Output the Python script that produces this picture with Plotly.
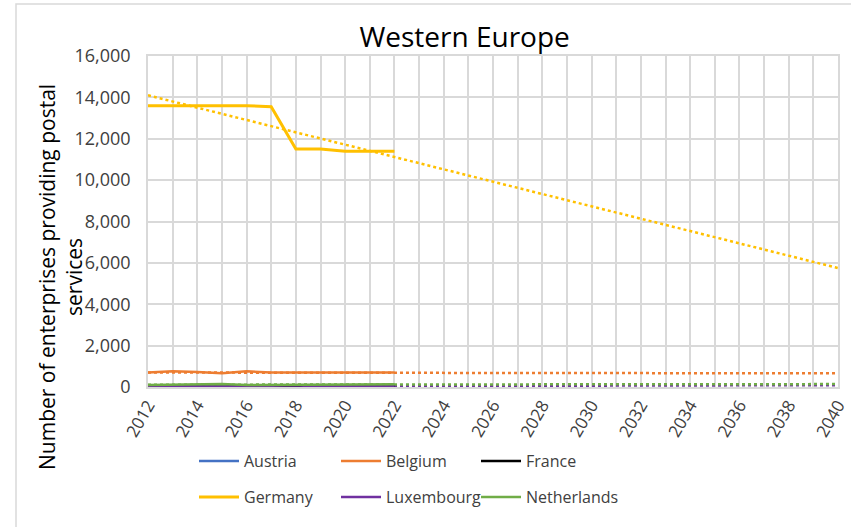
import plotly.graph_objects as go

years = [2012, 2013, 2014, 2015, 2016, 2017, 2018, 2019, 2020, 2021, 2022]
austria = [20, 20, 20, 20, 20, 20, 20, 20, 20, 20, 20]
belgium = [700, 760, 720, 660, 760, 700, 700, 700, 700, 700, 700]
france = [10, 10, 10, 10, 10, 10, 10, 10, 10, 10, 10]
germany = [13600, 13600, 13600, 13600, 13600, 13550, 11500, 11500, 11400, 11400, 11400]
luxembourg = [20, 20, 20, 20, 30, 60, 80, 20, 20, 20, 20]
netherlands = [100, 120, 130, 140, 100, 110, 120, 130, 130, 130, 130]

trend_years = [2012, 2040]
germany_trend = [14100, 5750]
belgium_trend = [700, 660]
netherlands_trend = [110, 140]
luxembourg_trend = [20, 90]

x_ticks = list(range(2012, 2041, 2))

colors = {
    "Austria": "#4472C4",
    "Belgium": "#ED7D31",
    "France": "#000000",
    "Germany": "#FFC000",
    "Luxembourg": "#7030A0",
    "Netherlands": "#70AD47",
}

font_family = "Open Sans, Noto Sans, sans-serif"

fig = go.Figure()

# trendlines (dotted)
for name, yv in [("Luxembourg", luxembourg_trend), ("Netherlands", netherlands_trend),
                 ("Belgium", belgium_trend), ("Germany", germany_trend)]:
    fig.add_trace(go.Scatter(x=trend_years, y=yv, mode="lines", showlegend=False,
                             line=dict(color=colors[name], width=2.5, dash="dot"),
                             hoverinfo="skip"))

series = [("Austria", austria), ("Belgium", belgium), ("France", france),
          ("Germany", germany), ("Luxembourg", luxembourg), ("Netherlands", netherlands)]
legend_ids = ["legend", "legend2", "legend3", "legend4", "legend5", "legend6"]
for (n, v), lg in zip(series, legend_ids):
    fig.add_trace(go.Scatter(x=years, y=v, mode="lines", name=n, legend=lg,
                             line=dict(color=colors[n], width=3 if n == "Germany" else 2.5)))

legend_common = dict(orientation="h", xref="container", yref="container",
                     xanchor="left", yanchor="middle",
                     font=dict(size=16, color="#404040", family=font_family),
                     bgcolor="rgba(0,0,0,0)", itemwidth=40)

col_x = [200, 342, 482]
row_y = [461, 497]
legend_layout = {}
for i, lg in enumerate(legend_ids):
    legend_layout[lg] = dict(x=(col_x[i % 3] - 6) / 851, y=1 - row_y[i // 3] / 527, **legend_common)

fig.update_layout(
    width=851, height=527,
    margin=dict(l=148, r=13, t=56, b=140),
    paper_bgcolor="white", plot_bgcolor="white",
    font=dict(family=font_family, color="#404040"),
    title=dict(text="Western Europe", x=0.546, xanchor="center", y=1 - 37 / 527, yanchor="middle",
               font=dict(size=28, color="#000000", family=font_family)),
    xaxis=dict(range=[2012, 2040], tickvals=x_ticks, ticktext=[str(t) for t in x_ticks],
               tickangle=-60, tickfont=dict(size=17, color="#404040"),
               showgrid=True, gridcolor="#D9D9D9", gridwidth=1.5,
               minor=dict(dtick=1, showgrid=True, gridcolor="#D9D9D9", gridwidth=1.5),
               showline=True, linecolor="#D9D9D9", linewidth=1.5, mirror=True,
               zeroline=False, ticks="", automargin=False),
    yaxis=dict(range=[0, 16000], dtick=2000, tickformat=",",
               tickfont=dict(size=18, color="#404040"), ticklabelstandoff=12,
               showgrid=True, gridcolor="#D9D9D9", gridwidth=1.5,
               showline=True, linecolor="#D9D9D9", linewidth=1.5, mirror=True,
               zeroline=False, ticks="", automargin=False),
    annotations=[dict(text="Number of enterprises providing postal<br>services",
                      textangle=-90, xref="paper", yref="paper", showarrow=False,
                      x=(60 - 148) / 690, y=(387 - 277) / 331, xanchor="center", yanchor="middle",
                      font=dict(size=21, color="#000000", family=font_family))],
    shapes=[dict(type="rect", xref="paper", yref="paper",
                 x0=(16 - 148) / 690, x1=(860 - 148) / 690,
                 y0=(387 - 540) / 331, y1=(387 - 4) / 331,
                 line=dict(color="#D9D9D9", width=1.5), fillcolor="rgba(0,0,0,0)", layer="below")],
    **legend_layout,
)

fig.write_html("out.html", config={"displayModeBar": False},
               post_script="document.body.style.margin='0';document.body.style.overflow='hidden';")
